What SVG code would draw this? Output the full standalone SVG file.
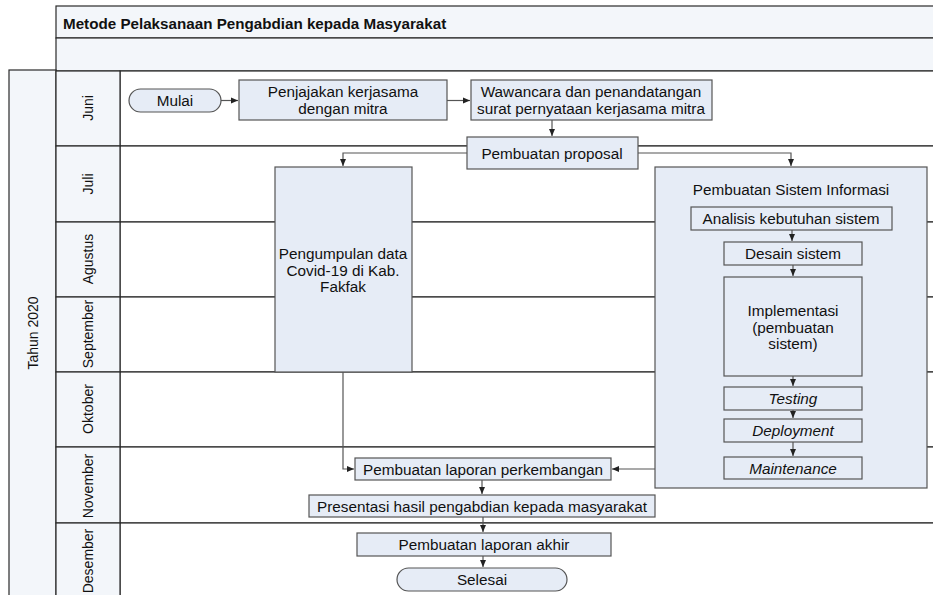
<svg xmlns="http://www.w3.org/2000/svg" width="933" height="595" viewBox="0 0 933 595">
<style>
.band{fill:#f3f6fa;stroke:#2a2a2a;stroke-width:1.2}
.lane{fill:#ffffff;stroke:#2a2a2a;stroke-width:1.2}
.box{fill:#e6ecf6;stroke:#555;stroke-width:1.2}
.t{font-family:"Liberation Sans",Arial,sans-serif;font-size:15.3px;fill:#111;text-anchor:middle;dominant-baseline:central}
.it{font-style:italic}
.rot{font-family:"Liberation Sans",Arial,sans-serif;font-size:14px;fill:#111;text-anchor:middle;dominant-baseline:central}
.title{font-family:"Liberation Sans",Arial,sans-serif;font-size:15.2px;font-weight:bold;fill:#111;dominant-baseline:central}
.c{fill:none;stroke:#555;stroke-width:1.2}
</style>
<defs>
<marker id="ah" markerUnits="userSpaceOnUse" markerWidth="8" markerHeight="8" refX="7" refY="4" orient="auto">
<path d="M0,1 L7,4 L0,7 Z" fill="#222"/>
</marker>
</defs>
<rect width="933" height="595" fill="#ffffff"/>
<g id="pool">
<rect class="band" x="56" y="6" width="890" height="32"/>
<rect class="band" x="56" y="38" width="890" height="33"/>
<rect class="band" x="9" y="70" width="47" height="540"/>
<text class="rot" transform="translate(33,333) rotate(-90)">Tahun 2020</text>
</g>
<g id="lanes">
<rect class="lane" x="120" y="71" width="826" height="75"/>
<rect class="lane" x="120" y="146" width="826" height="76"/>
<rect class="lane" x="120" y="222" width="826" height="75"/>
<rect class="lane" x="120" y="297" width="826" height="75"/>
<rect class="lane" x="120" y="372" width="826" height="75"/>
<rect class="lane" x="120" y="447" width="826" height="76"/>
<rect class="lane" x="120" y="523" width="826" height="90"/>
<rect class="band" x="56" y="71" width="64" height="75"/>
<rect class="band" x="56" y="146" width="64" height="76"/>
<rect class="band" x="56" y="222" width="64" height="75"/>
<rect class="band" x="56" y="297" width="64" height="75"/>
<rect class="band" x="56" y="372" width="64" height="75"/>
<rect class="band" x="56" y="447" width="64" height="76"/>
<rect class="band" x="56" y="523" width="64" height="90"/>
<text class="rot" transform="translate(88,108) rotate(-90)">Juni</text>
<text class="rot" transform="translate(88,184) rotate(-90)">Juli</text>
<text class="rot" transform="translate(88,259) rotate(-90)">Agustus</text>
<text class="rot" transform="translate(88,334) rotate(-90)">September</text>
<text class="rot" transform="translate(88,409) rotate(-90)">Oktober</text>
<text class="rot" transform="translate(88,486) rotate(-90)">November</text>
<text class="rot" transform="translate(88,561) rotate(-90)">Desember</text>
</g>
<text class="title" x="63" y="23">Metode Pelaksanaan Pengabdian kepada Masyarakat</text>

<g id="mulai"><rect class="box" x="129" y="89" width="92" height="23" rx="11.5"/><text class="t" x="175" y="100.5">Mulai</text></g>
<g id="penjajakan"><rect class="box" x="239" y="80" width="208" height="40"/><text class="t" x="343" y="91">Penjajakan kerjasama</text><text class="t" x="343" y="108">dengan mitra</text></g>
<g id="wawancara"><rect class="box" x="471" y="80" width="241" height="40"/><text class="t" x="591" y="91">Wawancara dan penandatangan</text><text class="t" x="591" y="108">surat pernyataan kerjasama mitra</text></g>
<g id="proposal"><rect class="box" x="467" y="137" width="171" height="32"/><text class="t" x="552" y="153">Pembuatan proposal</text></g>
<g id="pengumpulan"><rect class="box" x="275" y="167" width="137" height="205"/><text class="t" x="343" y="253">Pengumpulan data</text><text class="t" x="343" y="270">Covid-19 di Kab.</text><text class="t" x="343" y="286">Fakfak</text></g>
<g id="sistem"><rect class="box" x="655" y="167" width="272" height="321"/><text class="t" x="791" y="189">Pembuatan Sistem Informasi</text></g>
<g id="analisis"><rect class="box" x="691" y="207" width="201" height="23"/><text class="t" x="791" y="218.5">Analisis kebutuhan sistem</text></g>
<g id="desain"><rect class="box" x="724" y="242" width="138" height="23"/><text class="t" x="793" y="253.5">Desain sistem</text></g>
<g id="implementasi"><rect class="box" x="724" y="277" width="138" height="99"/><text class="t" x="793" y="310">Implementasi</text><text class="t" x="793" y="327">(pembuatan</text><text class="t" x="793" y="343">sistem)</text></g>
<g id="testing"><rect class="box" x="724" y="387" width="138" height="23"/><text class="t it" x="793" y="398.5">Testing</text></g>
<g id="deployment"><rect class="box" x="724" y="419" width="138" height="23"/><text class="t it" x="793" y="430.5">Deployment</text></g>
<g id="maintenance"><rect class="box" x="724" y="457" width="138" height="22"/><text class="t it" x="793" y="468">Maintenance</text></g>
<g id="perkembangan"><rect class="box" x="355" y="458" width="256" height="22"/><text class="t" x="483" y="469">Pembuatan laporan perkembangan</text></g>
<g id="presentasi"><rect class="box" x="309" y="495" width="346" height="22"/><text class="t" x="482" y="506">Presentasi hasil pengabdian kepada masyarakat</text></g>
<g id="akhir"><rect class="box" x="357" y="533" width="254" height="23"/><text class="t" x="484" y="544.5">Pembuatan laporan akhir</text></g>
<g id="selesai"><rect class="box" x="397" y="568" width="170" height="23" rx="11.5"/><text class="t" x="482" y="579.5">Selesai</text></g>

<g id="connectors">
<path class="c" d="M221,100.5 H238" marker-end="url(#ah)"/>
<path class="c" d="M447,100.5 H470" marker-end="url(#ah)"/>
<path class="c" d="M552,120 V136" marker-end="url(#ah)"/>
<path class="c" d="M467,153 H343 V166" marker-end="url(#ah)"/>
<path class="c" d="M638,153 H791 V166" marker-end="url(#ah)"/>
<path class="c" d="M792,230 V241" marker-end="url(#ah)"/>
<path class="c" d="M793,265 V276" marker-end="url(#ah)"/>
<path class="c" d="M793,376 V386" marker-end="url(#ah)"/>
<path class="c" d="M793,410 V418" marker-end="url(#ah)"/>
<path class="c" d="M793,442 V456" marker-end="url(#ah)"/>
<path class="c" d="M343,372 V469 H354" marker-end="url(#ah)"/>
<path class="c" d="M655,469 H612" marker-end="url(#ah)"/>
<path class="c" d="M482,480 V494" marker-end="url(#ah)"/>
<path class="c" d="M483,517 V532" marker-end="url(#ah)"/>
<path class="c" d="M483,556 V567" marker-end="url(#ah)"/>
</g>
</svg>
